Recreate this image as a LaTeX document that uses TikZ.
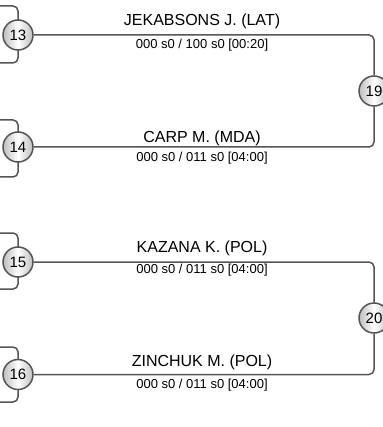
\documentclass[tikz,border=0pt]{standalone}
\usepackage{fontspec}
\setmainfont{Liberation Sans}
\usetikzlibrary{positioning}
\definecolor{linegrey}{RGB}{85,85,85}
\definecolor{ballgrey}{RGB}{190,190,190}

\begin{document}
\begin{tikzpicture}[x=1pt,y=-1pt,
  ball/.style={circle,draw=linegrey,line width=1.5pt,left color=ballgrey,right color=ballgrey,
    middle color=white,minimum size=30pt,inner sep=0pt,font=\fontsize{15}{17}\selectfont},
  conn/.style={draw=linegrey,line width=1.5pt,rounded corners=5pt},
  pname/.style={anchor=base,inner sep=0pt,font=\fontsize{16}{18}\selectfont},
  pscore/.style={anchor=base,inner sep=0pt,font=\fontsize{13}{15}\selectfont}]
\useasboundingbox (0,0) rectangle (382,427);
\foreach \i/\y/\yt/\yb/\yn/\ys/\nm/\sc in {
    13/35/6/63/26/49/{JEKABSONS J. (LAT)}/{000 s0 / 100 s0 [00:20]},
    14/147/120/177/142.7/161.5/{CARP M. (MDA)}/{000 s0 / 011 s0 [04:00]},
    15/262/233/289/252.7/273/{KAZANA K. (POL)}/{000 s0 / 011 s0 [04:00]},
    16/374.5/347/402/366.7/388/{ZINCHUK M. (POL)}/{000 s0 / 011 s0 [04:00]}}{
  \coordinate (t\i) at (0,\yt);
  \coordinate (b\i) at (0,\yb);
  \draw[conn] (18,\y) |- (t\i);
  \draw[conn] (18,\y) |- (b\i);
  \node[ball] (m\i) at (18,\y) {\i};
  \node[pname] (n\i) at (202,\yn) {\nm};
  \node[pscore] (s\i) at (202,\ys) {\sc};
}
\node[ball] (m19) at (374,91) {19};
\node[ball] (m20) at (374,318) {20};
% rounds
\draw[conn] (m13) -| (m19);
\draw[conn] (m14) -| (m19);
\draw[conn] (m15) -| (m20);
\draw[conn] (m16) -| (m20);
\end{tikzpicture}
\end{document}
